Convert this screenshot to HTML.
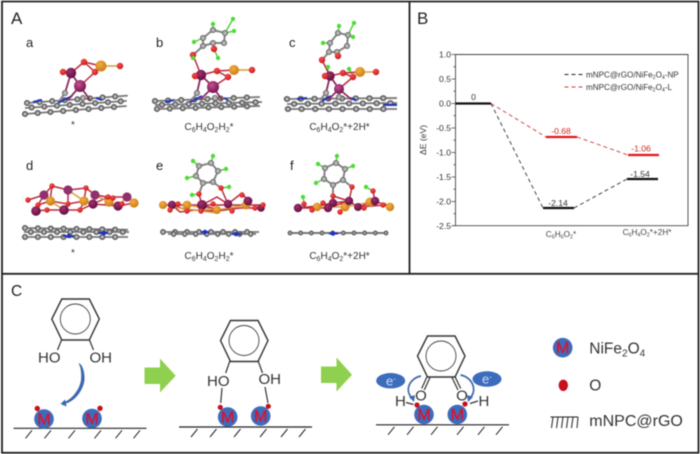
<!DOCTYPE html>
<html><head><meta charset="utf-8"><style>
html,body{margin:0;padding:0;background:#fff;width:700px;height:454px;overflow:hidden}
svg{display:block;filter:blur(.4px)}
text{font-family:"Liberation Sans",sans-serif}
.lb{font-size:13px;fill:#222}
.cap{font-size:10px;fill:#333;text-anchor:middle}
.t{font-size:8.6px;fill:#333;text-anchor:end}
circle.d{fill:url(#gd)}
circle.p{fill:url(#gp)}
circle.l{fill:#92306c}
circle.o{fill:url(#go)}
circle.r{fill:url(#gr);r:2.7px}
.big circle.r{r:3.2px}
circle.g{fill:#b4b4b4;stroke:#666;stroke-width:1.1;r:2.5px}
circle.h{fill:#4fdc35;r:2.2px}
.b{stroke:#bb2a3e;stroke-width:1.5;fill:none}
.bp{stroke:#8a2a62;stroke-width:1.8;fill:none}
.bo{stroke:#d99a3a;stroke-width:1.4;fill:none}
.bg{stroke:#858585;stroke-width:2;fill:none}
.bh{stroke:#5ccc45;stroke-width:1.5;fill:none}
.n{stroke:#2233bb;stroke-width:2;fill:none}
.chem{stroke:#333;stroke-width:1.2;fill:none}
.hat{stroke:#222;stroke-width:1;fill:none}
.base{stroke:#222;stroke-width:1.2;fill:none}
.c{font-size:15px;fill:#333}
.M{font-size:16px;fill:#e0102c;stroke:#e0102c;stroke-width:.3;text-anchor:middle}
</style></head><body>
<svg width="700" height="454" viewBox="0 0 700 454" xmlns="http://www.w3.org/2000/svg">
<defs>
<radialGradient id="gp" cx=".4" cy=".35" r=".7"><stop offset="0" stop-color="#c84f92"/><stop offset="1" stop-color="#70124c"/></radialGradient>
<radialGradient id="gd" cx=".4" cy=".35" r=".7"><stop offset="0" stop-color="#a03070"/><stop offset="1" stop-color="#5e0c3c"/></radialGradient>
<radialGradient id="go" cx=".4" cy=".35" r=".7"><stop offset="0" stop-color="#f4ac40"/><stop offset="1" stop-color="#c87a14"/></radialGradient>
<radialGradient id="gr" cx=".4" cy=".35" r=".7"><stop offset="0" stop-color="#f45050"/><stop offset="1" stop-color="#c81414"/></radialGradient>

<g id="row"><path d="M0 0H100" stroke="#777" stroke-width="1.800"/><path d="M0 0H100" stroke="#5f5f5f" stroke-width="6" stroke-linecap="round" stroke-dasharray="0 12.500"/><path d="M0 0H100" stroke="#bcbcbc" stroke-width="3" stroke-linecap="round" stroke-dasharray="0 12.500"/></g>
<g id="rowb"><path d="M0 0H100" stroke="#777" stroke-width="1.800"/><path d="M0 0H100" stroke="#5f5f5f" stroke-width="6" stroke-linecap="round" stroke-dasharray="0 12.500" stroke-dashoffset="6"/><path d="M0 0H100" stroke="#bcbcbc" stroke-width="3" stroke-linecap="round" stroke-dasharray="0 12.500" stroke-dashoffset="6"/></g>

<g id="ring"><path d="M-13.500 -20H14L24 0 14 21H-13.500L-23.500 0Z" fill="none" stroke="#333" stroke-width="1.400"/><circle r="15" fill="none" stroke="#444" stroke-width=".9"/></g>

<g id="hb"><path d="M0 0H133" class="base"/>
<path d="M12 10L18.500 2M31 10L37.500 2M55 10L61.500 2M81 10L87.500 2M102 10L108.500 2M120 10L126.500 2" class="hat"/></g>
<g id="M"><circle r="9.800" fill="#3c6cbc"/><text y="5.500" class="M">M</text></g>
</defs>

<rect width="700" height="454" fill="#fff"/>
<!-- Frames -->
<path d="M2 1.500H698.500V452.800H2Z" fill="none" stroke="#222" stroke-width="1.800"/>
<path d="M409.500 1.500V273.800M2 273.800H698.500" stroke="#222" stroke-width="1.800" fill="none"/>

<!-- Panel A labels -->
<text x="11" y="24" font-size="17" fill="#222">A</text>
<text x="26" y="47" class="lb">a</text><text x="156" y="47" class="lb">b</text><text x="289" y="47" class="lb">c</text>
<text x="26" y="170" class="lb">d</text><text x="156" y="170" class="lb">e</text><text x="290" y="170" class="lb">f</text>

<text x="73" y="128" class="cap">*</text>
<text x="209" y="130" class="cap">C<tspan font-size="7" dy="2">6</tspan><tspan dy="-2">H</tspan><tspan font-size="7" dy="2">4</tspan><tspan dy="-2">O</tspan><tspan font-size="7" dy="2">2</tspan><tspan dy="-2">H</tspan><tspan font-size="7" dy="2">2</tspan><tspan dy="-2">*</tspan></text>
<text x="339.500" y="130" class="cap">C<tspan font-size="7" dy="2">6</tspan><tspan dy="-2">H</tspan><tspan font-size="7" dy="2">4</tspan><tspan dy="-2">O</tspan><tspan font-size="7" dy="2">2</tspan><tspan dy="-2">*+2H*</tspan></text>
<text x="73" y="256" class="cap">*</text>
<text x="209" y="259" class="cap">C<tspan font-size="7" dy="2">6</tspan><tspan dy="-2">H</tspan><tspan font-size="7" dy="2">4</tspan><tspan dy="-2">O</tspan><tspan font-size="7" dy="2">2</tspan><tspan dy="-2">H</tspan><tspan font-size="7" dy="2">2</tspan><tspan dy="-2">*</tspan></text>
<text x="339.500" y="259" class="cap">C<tspan font-size="7" dy="2">6</tspan><tspan dy="-2">H</tspan><tspan font-size="7" dy="2">4</tspan><tspan dy="-2">O</tspan><tspan font-size="7" dy="2">2</tspan><tspan dy="-2">*+2H*</tspan></text>

<g class="big">
<!-- a -->
<use href="#row" transform="translate(27 103) rotate(-4.2) scale(1.01 1)"/>
<use href="#rowb" transform="translate(25 108) rotate(-4) scale(1.02 1)"/>
<use href="#row" transform="translate(25 114) rotate(-4.500) scale(1.02 1)"/>
<path class="n" d="M33 102L42 100M58 103L72 96M96 98L102 100"/>
<path class="bg" d="M65 93L60 100M83 97L80 100"/>
<path class="bp" d="M71 73L80 86M71 73L65 93M80 86L90 100M80 86L68 100"/>
<path class="b" d="M63 72L71 73 84 62 101 66M80 86L95 72 101 66M95 72L84 62"/>
<path class="bo" d="M101 66L120 66"/>
<circle class="g" cx="65" cy="93"/><circle class="g" cx="83" cy="98"/>
<circle class="d" cx="71" cy="73" r="5.200"/><circle class="p" cx="80" cy="86" r="6"/><circle class="o" cx="101" cy="66" r="5.500"/>
<circle class="r" cx="63" cy="72"/><circle class="r" cx="84" cy="62"/><circle class="r" cx="95" cy="72"/><circle class="r" cx="120" cy="66"/>

<!-- b -->
<use href="#row" transform="translate(155 101) rotate(-2.200) scale(1.05 1)"/>
<use href="#rowb" transform="translate(155 105) rotate(-1.600) scale(1.07 1)"/>
<use href="#row" transform="translate(157 109) rotate(-1.700) scale(1.03 1)"/>
<path class="n" d="M165 102L174 100M190 102L202 96M224 98L228 100"/>
<path class="bg" d="M197 93L192 100M215 97L212 100"/>
<path class="bg" d="M193 55L203 46 203 38 213 30 225 33 224 43 213 43 203 46"/>
<path class="bh" d="M203 38L194 42M213 30L213 24M225 33L234 31M225 33L233 19M214 49L218 58M193 55L193 58"/>
<path class="b" d="M193 55L201 75M213 43L214 49"/>
<path class="bp" d="M201 75L213 87M201 75L197 93M213 87L222 100M213 87L200 100"/>
<path class="b" d="M195 76L201 75 217 71 234 70M228 77L213 87M228 77L217 71"/>
<path class="bo" d="M234 70L252 70"/>
<circle class="g" cx="197" cy="93"/><circle class="g" cx="215" cy="98"/>
<circle class="g" cx="203" cy="46"/><circle class="g" cx="203" cy="38"/><circle class="g" cx="213" cy="30"/><circle class="g" cx="225" cy="33"/><circle class="g" cx="224" cy="43"/><circle class="g" cx="213" cy="43"/>
<circle class="h" cx="194" cy="42"/><circle class="h" cx="213" cy="24"/><circle class="h" cx="234" cy="31"/><circle class="h" cx="233" cy="19"/><circle class="h" cx="218" cy="58"/>
<circle class="r" cx="193" cy="55"/><circle class="h" cx="193" cy="58"/><circle class="r" cx="214" cy="49"/>
<circle class="d" cx="201" cy="75" r="5.200"/><circle class="p" cx="213" cy="87" r="6"/><circle class="o" cx="234" cy="70" r="5"/>
<circle class="r" cx="195" cy="76"/><circle class="r" cx="217" cy="71"/><circle class="r" cx="228" cy="77"/><circle class="r" cx="252" cy="70"/>

<!-- c -->
<use href="#row" transform="translate(287 99) rotate(-.500) scale(1.100 1)"/>
<use href="#rowb" transform="translate(287 104) rotate(-.500) scale(1.100 1)"/>
<use href="#row" transform="translate(288 109) scale(1.090 1)"/>
<path class="n" d="M297 99L307 98M322 101L331 96M350 98L356 100M383 105L397 105"/>
<path class="bg" d="M326 93L320 100M339 97L336 100"/>
<path class="bg" d="M322 60L329 52 330 43 338 33 348 35 347 46 337 52 329 52"/>
<path class="bh" d="M330 43L323 43M338 33L339 26M348 35L353 37M348 35L354 23M328 67L328 75M349 69L352 74"/>
<path class="b" d="M322 60L330 76M338 56L337 52"/>
<path class="bp" d="M330 76L339 89M330 76L326 93M339 89L352 100M339 89L328 100"/>
<path class="b" d="M325 76L330 76 343 73 360 72M353 77L339 89M353 77L343 73"/>
<path class="bo" d="M360 72L376 72"/>
<circle class="g" cx="326" cy="93"/><circle class="g" cx="339" cy="97"/>
<circle class="g" cx="329" cy="52"/><circle class="g" cx="330" cy="43"/><circle class="g" cx="338" cy="33"/><circle class="g" cx="348" cy="35"/><circle class="g" cx="347" cy="46"/><circle class="g" cx="337" cy="52"/>
<circle class="h" cx="323" cy="43"/><circle class="h" cx="339" cy="26"/><circle class="h" cx="353" cy="37"/><circle class="h" cx="354" cy="23"/><circle class="h" cx="328" cy="67"/><circle class="h" cx="349" cy="69"/>
<circle class="r" cx="322" cy="60"/><circle class="r" cx="338" cy="56"/>
<circle class="d" cx="330" cy="76" r="4.700"/><circle class="p" cx="339" cy="89" r="5"/><circle class="o" cx="360" cy="72" r="5"/>
<circle class="r" cx="325" cy="76"/><circle class="r" cx="343" cy="73"/><circle class="r" cx="353" cy="77"/><circle class="r" cx="376" cy="72"/>
</g>

<!-- d -->
<use href="#row" transform="translate(25 228) rotate(1) scale(1.030 1)"/>
<use href="#rowb" transform="translate(24 232)  scale(1.050 1)"/>
<use href="#row" transform="translate(25 237)  scale(1.030 1)"/>
<path class="n" d="M63 236L74 236M98 233L108 233"/>
<circle cx="69" cy="236" r="2.300" fill="#2233bb"/><circle cx="104" cy="233" r="2.300" fill="#2233bb"/>
<path class="b" d="M28 200L44 195 52 186 68 190 86 188 95 195 108 197 127 197M38 205L50 201 68 204 84 201 93 204 108 197M36 211L47 210 64 210 80 210 93 204 118 206 134 203M52 186L50 201M68 190L68 204 64 210M86 188L84 201 80 210M44 195L38 205"/>
<path class="bo" d="M44 195L50 201 64 210M68 190L84 201 93 204M95 195L109 202 118 206 127 197 134 203"/>
<circle class="l" cx="44" cy="195" r="4.600"/><circle class="l" cx="68" cy="190" r="4.600"/><circle class="l" cx="95" cy="195" r="4.600"/><circle class="l" cx="127" cy="197" r="4.600"/>
<circle class="o" cx="50.500" cy="201" r="4.600"/><circle class="o" cx="84" cy="201" r="4.600"/><circle class="o" cx="109" cy="202" r="4.600"/><circle class="o" cx="134" cy="203" r="4.600"/>
<circle class="d" cx="36" cy="211" r="4.800"/><circle class="d" cx="64" cy="210" r="4.800"/><circle class="d" cx="93" cy="204" r="4.600"/><circle class="d" cx="118" cy="206" r="4.600"/>
<circle class="r" cx="28" cy="200"/><circle class="r" cx="52" cy="186"/><circle class="r" cx="86" cy="188"/><circle class="r" cx="38" cy="205"/><circle class="r" cx="68" cy="204"/><circle class="r" cx="47" cy="210"/><circle class="r" cx="80" cy="210"/><circle class="r" cx="108" cy="197"/><circle class="r" cx="113" cy="198"/><circle class="r" cx="122" cy="204"/>

<!-- e -->
<use href="#row" transform="translate(163 232) scale(.96 1)"/>
<use href="#rowb" transform="translate(168 234) scale(.88 1)"/>
<path class="n" d="M201 232L209 232M232 234L241 234"/>
<circle cx="205" cy="232" r="2.300" fill="#2233bb"/><circle cx="236" cy="234" r="2.300" fill="#2233bb"/>
<path class="bg" d="M199 166L211 163 218 171 213 182 203 183 196 176ZM203 183L199 194M213 182L221 188"/>
<path class="bh" d="M199 166L193 161M211 163L213 156M218 171L226 169M196 176L187 178M199 194L192 195M221 188L229 187"/>
<path class="b" d="M199 194L202 205M221 188L228 204M163 205H262M172 205L180 212 195 210 217 211 240 208 261 208M202 205L217 197 228 204 242 193 248 201M172 205L187 210M202 205L215 209"/>
<path class="bo" d="M187 205L217 210 246 205M172 207L217 213"/>
<circle class="g" cx="199" cy="166"/><circle class="g" cx="211" cy="163"/><circle class="g" cx="218" cy="171"/><circle class="g" cx="213" cy="182"/><circle class="g" cx="203" cy="183"/><circle class="g" cx="196" cy="176"/>
<circle class="h" cx="193" cy="161"/><circle class="h" cx="213" cy="156"/><circle class="h" cx="226" cy="169"/><circle class="h" cx="187" cy="178"/><circle class="h" cx="192" cy="195"/><circle class="h" cx="229" cy="187"/>
<circle class="o" cx="163" cy="205" r="4"/><circle class="o" cx="187" cy="205" r="4.400"/><circle class="o" cx="217" cy="210" r="4"/><circle class="o" cx="246" cy="205" r="4.400"/>
<circle class="d" cx="172" cy="205" r="4.200"/><circle class="d" cx="202" cy="205" r="5"/><circle class="d" cx="228" cy="204" r="4.200"/><circle class="d" cx="248" cy="201" r="4.400"/><circle class="d" cx="261" cy="208" r="3.800"/>
<circle class="r" cx="199" cy="194"/><circle class="r" cx="221" cy="188"/><circle class="r" cx="178" cy="204"/><circle class="r" cx="170" cy="210"/><circle class="r" cx="187" cy="211"/><circle class="r" cx="201" cy="211"/><circle class="r" cx="213" cy="204"/><circle class="r" cx="232" cy="211"/><circle class="r" cx="242" cy="195"/><circle class="r" cx="263" cy="205"/><circle class="r" cx="255" cy="208"/>

<!-- f -->
<g transform="translate(290 233) scale(.97 1)"><path d="M0 0H100" stroke="#777" stroke-width="2"/><path d="M0 0H100" stroke="#666" stroke-width="5" stroke-linecap="round" stroke-dasharray="0 11"/><path d="M0 0H100" stroke="#b4b4b4" stroke-width="2" stroke-linecap="round" stroke-dasharray="0 11"/></g>
<path class="n" d="M329 233.500H338"/><circle cx="333" cy="233.500" r="2.300" fill="#2233bb"/>
<path class="bg" d="M325 168L336 163 345 169 343 180 333 185 324 179ZM333 185L333 196M343 180L352 187"/>
<path class="bh" d="M325 168L318 164M336 163L337 156M345 169L353 166M324 179L316 183M303 197L304 203M366 187L373 191"/>
<path class="b" d="M333 196L333 203M352 187L349 201M333 196L349 201M298 208L317 206 333 203 349 201 358 207 375 201 390 207M298 208L328 208 349 201M373 191L375 201M317 207L328 208M358 207L386 205"/>
<path class="bo" d="M317 207L345 207 370 202M340 212L349 201M385 203L390 207"/>
<circle class="g" cx="325" cy="168"/><circle class="g" cx="336" cy="163"/><circle class="g" cx="345" cy="169"/><circle class="g" cx="343" cy="180"/><circle class="g" cx="333" cy="185"/><circle class="g" cx="324" cy="179"/>
<circle class="h" cx="318" cy="164"/><circle class="h" cx="337" cy="156"/><circle class="h" cx="353" cy="166"/><circle class="h" cx="316" cy="183"/><circle class="h" cx="303" cy="197"/><circle class="h" cx="366" cy="187"/>
<circle class="o" cx="317" cy="207" r="4.200"/><circle class="o" cx="345" cy="207" r="4.500"/><circle class="o" cx="370" cy="202" r="4.500"/><circle class="o" cx="390" cy="207" r="4.200"/>
<circle class="d" cx="298" cy="208" r="4.200"/><circle class="d" cx="333" cy="203" r="4.200"/><circle class="d" cx="328" cy="208" r="4.200"/><circle class="d" cx="349" cy="201" r="4.200"/><circle class="d" cx="358" cy="207" r="4"/><circle class="d" cx="375" cy="201" r="4.200"/>
<circle class="r" cx="333" cy="196"/><circle class="r" cx="352" cy="187"/><circle class="r" cx="373" cy="191"/><circle class="r" cx="304" cy="204"/><circle class="r" cx="312" cy="210"/><circle class="r" cx="323" cy="203"/><circle class="r" cx="340" cy="212"/><circle class="r" cx="364" cy="208"/><circle class="r" cx="383" cy="205"/>

<!-- Panel B -->
<text x="417" y="24" font-size="17" fill="#222">B</text>
<path d="M455.500 54.500H688V225.700H455.500Z" fill="none" stroke="#444" stroke-width=".9"/>
<path d="M455.500 54.500h-4M455.500 79h-4M455.500 103.500h-4M455.500 128h-4M455.500 152.500h-4M455.500 177h-4M455.500 201.500h-4M455.500 225.700h-4M455.500 66.700h-2M455.500 91.200h-2M455.500 115.700h-2M455.500 140.200h-2M455.500 164.700h-2M455.500 189.200h-2M455.500 213.700h-2" stroke="#444" stroke-width=".8" fill="none"/>
<text x="451" y="57.500" class="t">1.0</text><text x="451" y="82" class="t">0.5</text><text x="451" y="106.500" class="t">0.0</text><text x="451" y="131" class="t">-0.5</text><text x="451" y="155.500" class="t">-1.0</text><text x="451" y="180" class="t">-1.5</text><text x="451" y="204.500" class="t">-2.0</text><text x="451" y="228.800" class="t">-2.5</text>
<text transform="translate(426 140) rotate(-90)" text-anchor="middle" font-size="8.600" fill="#333">ΔE (eV)</text>
<path d="M491 103.500L543 208M574 208L627 179" stroke="#333" stroke-width=".9" stroke-dasharray="4 3" fill="none"/>
<path d="M491 103.500L546 137M577 137L628 155" stroke="#d03a3a" stroke-width=".9" stroke-dasharray="4 3" fill="none"/>
<path d="M455.500 103.500H491M543 208H574M627 179H658" stroke="#111" stroke-width="2.200"/>
<path d="M546 137H577M628 155H659" stroke="#e01818" stroke-width="2.200"/>
<g font-size="8.600" text-anchor="middle">
<text x="473.500" y="100" fill="#333">0</text>
<text x="561" y="134" fill="#d02828">-0.68</text>
<text x="558" y="206" fill="#333">-2.14</text>
<text x="641" y="151.500" fill="#d02828">-1.06</text>
<text x="640" y="177" fill="#333">-1.54</text>
</g>
<path d="M564.500 74.500H584" stroke="#222" stroke-width="1" stroke-dasharray="4 3"/>
<path d="M564.500 87H584" stroke="#d03a3a" stroke-width="1" stroke-dasharray="4 3"/>
<text x="586" y="77.500" font-size="8.100" fill="#333">mNPC@rGO/NiFe<tspan font-size="5.200" dy="1.500">2</tspan><tspan dy="-1.500">O</tspan><tspan font-size="5.200" dy="1.500">4</tspan><tspan dy="-1.500">-NP</tspan></text>
<text x="586" y="90" font-size="8.100" fill="#333">mNPC@rGO/NiFe<tspan font-size="5.200" dy="1.500">2</tspan><tspan dy="-1.500">O</tspan><tspan font-size="5.200" dy="1.500">4</tspan><tspan dy="-1.500">-L</tspan></text>
<text x="561" y="237" font-size="8.200" fill="#444" text-anchor="middle">C<tspan font-size="5.400" dy="1.500">6</tspan><tspan dy="-1.500">H</tspan><tspan font-size="5.400" dy="1.500">6</tspan><tspan dy="-1.500">O</tspan><tspan font-size="5.400" dy="1.500">2</tspan><tspan dy="-1.500">*</tspan></text>
<text x="647" y="235" font-size="8.200" fill="#444" text-anchor="middle">C<tspan font-size="5.400" dy="1.500">6</tspan><tspan dy="-1.500">H</tspan><tspan font-size="5.400" dy="1.500">4</tspan><tspan dy="-1.500">O</tspan><tspan font-size="5.400" dy="1.500">2</tspan><tspan dy="-1.500">*+2H*</tspan></text>

<!-- Panel C -->
<text x="11" y="296" font-size="15.500" fill="#222">C</text>

<!-- step 1 -->
<use href="#ring" x="75.300" y="319"/>
<path class="chem" d="M61.700 339.500L57.500 350M89.300 339.500L93.500 350"/>
<text x="38" y="362.500" class="c">HO</text><text x="89.500" y="362.500" class="c">OH</text>
<path d="M78.500 363C82 364 85 371 84.500 380 83.500 390 75 401 66 403.500L66.500 406.500 60.500 404 65 399.500 65.500 401.500C72 398.500 79.500 390 81 380 81.500 373 81 368 78.500 363Z" fill="#3d68ae"/>
<use href="#hb" x="13.500" y="428.300"/>
<use href="#M" x="44" y="419"/><use href="#M" x="92" y="418.500"/>
<circle cx="37.300" cy="408.500" r="2.700" fill="#c8101c"/><circle cx="100" cy="408.300" r="2.700" fill="#c8101c"/>

<!-- green arrows -->
<path d="M144.500 367.500H160V358.500L175.700 375.800 160 392.500V384H144.500Z" fill="#8fd14f"/>
<path d="M321 366.500H336.500V357.500L352 374.800 336.500 391.500V383H321Z" fill="#8fd14f"/>

<!-- step 2 -->
<use href="#ring" x="244" y="340.500"/>
<path class="chem" d="M230 360.500L225.700 373M258 360.500L262.500 373M222 388L220.700 403M265 387L268 403"/>
<text x="207" y="386" class="c">HO</text><text x="258.500" y="384" class="c">OH</text>
<use href="#hb" x="179" y="427"/>
<use href="#M" x="227.700" y="417"/><use href="#M" x="260.700" y="416"/>
<circle cx="220.300" cy="407.300" r="2.600" fill="#c8101c"/><circle cx="268.300" cy="406.300" r="2.600" fill="#c8101c"/>

<!-- step 3 -->
<use href="#ring" x="441" y="356"/>
<path class="chem" d="M427.300 376L421.700 388.500M430 377.500L424.300 390M454.700 376L460.700 388.500M452 377.500L458 390"/>
<text x="421" y="400.500" class="c" text-anchor="middle">O</text><text x="462" y="400.500" class="c" text-anchor="middle">O</text>
<text x="395" y="406" class="c">H</text><text x="478.500" y="406" class="c">H</text>
<path class="chem" d="M406 402.500L413.500 404.500M470 403.500L478 401"/>
<use href="#hb" x="376" y="424.800"/>
<use href="#M" x="424" y="414.500"/><use href="#M" x="457.300" y="414.500"/>
<circle cx="417" cy="405" r="2.600" fill="#c8101c"/><circle cx="465" cy="404" r="2.600" fill="#c8101c"/>
<ellipse cx="390.700" cy="380.700" rx="14.500" ry="7.700" fill="#3c6cbc"/><ellipse cx="487" cy="379" rx="14.500" ry="7.700" fill="#3c6cbc"/>
<text x="391" y="385.500" font-size="13" fill="#cfdcf2" text-anchor="middle">e<tspan font-size="8" dy="-4">-</tspan></text>
<text x="487" y="383.500" font-size="13" fill="#cfdcf2" text-anchor="middle">e<tspan font-size="8" dy="-4">-</tspan></text>
<path d="M421 376C410 378 404 390 412 398" fill="none" stroke="#3d68ae" stroke-width="1.700"/><path d="M409 397L415 395 414 402Z" fill="#3d68ae"/>
<path d="M460.500 375C472 377 478 390 470 398" fill="none" stroke="#3d68ae" stroke-width="1.700"/><path d="M473 397L467 395 468 402Z" fill="#3d68ae"/>

<!-- legend -->
<use href="#M" x="562.700" y="347.700"/>
<text x="589.300" y="353.500" font-size="15.500" fill="#333">NiFe<tspan font-size="10" dy="3">2</tspan><tspan dy="-3">O</tspan><tspan font-size="10" dy="3">4</tspan></text>
<ellipse cx="563.300" cy="385.300" rx="4.700" ry="5.700" fill="#c8101c"/>
<text x="589.300" y="390.500" font-size="15.500" fill="#333">O</text>
<path d="M550.500 417H578" stroke="#222" stroke-width="1"/>
<path d="M553 417L551.500 428M558 417L556.500 428M563 417L561.500 428M568 417L566.500 428M573 417L571.500 428M578 417L577 428" class="hat"/>
<text x="589.300" y="426" font-size="16" fill="#333">mNPC@rGO</text>
</svg>
</body></html>
